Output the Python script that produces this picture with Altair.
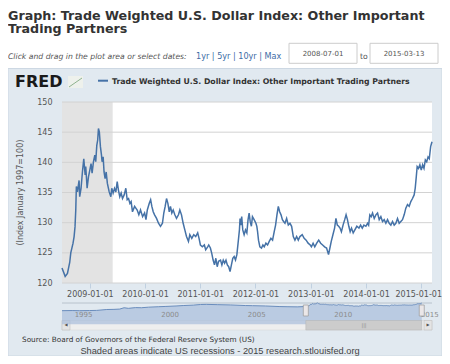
import altair as alt
import pandas as pd

# ---------------- data ----------------
dates = [
"2008-07-01","2008-07-22","2008-08-06","2008-08-21","2008-08-28","2008-09-12","2008-09-19","2008-09-25",
"2008-09-30","2008-10-04","2008-10-11","2008-10-22","2008-10-26","2008-11-04","2008-11-13","2008-11-22",
"2008-12-01","2008-12-05","2008-12-14","2008-12-23","2009-01-01","2009-01-09","2009-01-16","2009-01-25",
"2009-02-03","2009-02-09","2009-02-16","2009-02-22","2009-02-27","2009-03-05","2009-03-12","2009-03-19",
"2009-03-23","2009-03-30","2009-04-05","2009-04-12","2009-04-19","2009-04-27","2009-05-09","2009-05-20",
"2009-05-26","2009-06-04","2009-06-13","2009-06-22","2009-07-01","2009-07-09","2009-07-18","2009-07-27",
"2009-08-05","2009-08-16","2009-08-27","2009-09-05","2009-09-14","2009-09-23","2009-10-01","2009-10-10",
"2009-10-24","2009-11-10","2009-11-21","2009-12-02","2009-12-16","2009-12-29","2010-01-07","2010-01-16",
"2010-01-29","2010-02-07","2010-02-15","2010-02-24","2010-03-05","2010-03-18","2010-03-31","2010-04-13",
"2010-04-26","2010-05-05","2010-05-14","2010-05-23","2010-06-01","2010-06-10","2010-06-18","2010-06-27",
"2010-07-06","2010-07-17","2010-07-28","2010-08-10","2010-08-19","2010-08-30","2010-09-10","2010-09-21",
"2010-10-02","2010-10-15","2010-10-24","2010-11-06","2010-11-19","2010-12-02","2010-12-15","2010-12-24",
"2011-01-02","2011-01-15","2011-01-28","2011-02-06","2011-02-19","2011-02-26","2011-03-09","2011-03-18",
"2011-03-27","2011-04-05","2011-04-14","2011-04-23","2011-05-02","2011-05-15","2011-05-24","2011-06-02",
"2011-06-11","2011-06-20","2011-06-29","2011-07-08","2011-07-17","2011-07-26","2011-08-04","2011-08-13",
"2011-08-22","2011-08-31","2011-09-08","2011-09-17","2011-09-21","2011-09-26","2011-10-02","2011-10-09",
"2011-10-18","2011-10-27","2011-11-05","2011-11-13","2011-11-20","2011-11-27","2011-12-05","2011-12-12",
"2011-12-23","2012-01-04","2012-01-10","2012-01-15","2012-01-21","2012-01-30","2012-02-10","2012-02-19",
"2012-02-28","2012-03-10","2012-03-21","2012-04-01","2012-04-12","2012-04-23","2012-05-04","2012-05-13",
"2012-05-22","2012-05-31","2012-06-09","2012-06-18","2012-06-27","2012-07-05","2012-07-14","2012-07-25",
"2012-08-05","2012-08-16","2012-08-27","2012-09-07","2012-09-18","2012-09-29","2012-10-10","2012-10-21",
"2012-11-05","2012-11-18","2012-12-01","2012-12-14","2012-12-28","2013-01-05","2013-01-16","2013-01-27",
"2013-02-09","2013-02-22","2013-03-07","2013-03-20","2013-04-02","2013-04-15","2013-04-28","2013-05-07",
"2013-05-16","2013-05-27","2013-06-07","2013-06-16","2013-06-25","2013-07-04","2013-07-13","2013-07-22",
"2013-08-02","2013-08-13","2013-08-22","2013-08-31","2013-09-09","2013-09-18","2013-09-27","2013-10-08",
"2013-10-19","2013-11-01","2013-11-15","2013-11-26","2013-12-07","2013-12-18","2013-12-31","2014-01-11",
"2014-01-18","2014-01-26","2014-02-04","2014-02-13","2014-02-24","2014-03-07","2014-03-18","2014-03-29",
"2014-04-09","2014-04-20","2014-05-01","2014-05-12","2014-05-23","2014-06-03","2014-06-14","2014-06-25",
"2014-07-06","2014-07-17","2014-07-28","2014-08-08","2014-08-19","2014-08-30","2014-09-10","2014-09-21",
"2014-10-02","2014-10-13","2014-10-24","2014-11-04","2014-11-15","2014-11-22","2014-11-29","2014-12-05",
"2014-12-14","2014-12-23","2015-01-01","2015-01-10","2015-01-19","2015-01-28","2015-02-06","2015-02-15",
"2015-02-23","2015-03-04","2015-03-13",
]
values = [
122.5,121.1,121.6,123.4,125.0,126.6,127.7,129.3,
132.1,136.0,135.1,137.0,134.3,135.7,138.4,140.6,
137.9,139.3,135.7,137.6,138.7,139.8,138.2,140.1,
141.2,140.1,142.8,143.7,145.6,145.0,142.6,141.2,
140.1,140.9,138.4,137.3,138.4,136.5,135.1,134.3,
135.7,134.9,135.7,135.1,136.8,135.4,134.3,134.9,
134.0,134.6,135.7,133.8,134.0,133.2,133.5,131.8,
132.7,132.1,131.3,132.1,131.0,131.6,130.5,132.1,
133.2,133.8,132.7,131.8,131.3,130.7,129.9,129.4,
129.9,131.6,132.7,134.0,133.2,131.8,132.7,131.6,
132.1,131.3,130.7,131.3,132.1,131.3,129.9,128.8,
127.7,126.9,128.0,127.4,128.0,127.7,128.3,127.4,
126.3,126.0,126.3,125.5,126.0,126.3,125.8,124.9,
123.8,123.0,124.1,122.7,123.6,123.8,123.0,123.8,
123.3,123.8,123.0,122.7,121.9,123.0,124.1,124.4,
123.8,124.7,126.6,128.8,130.7,129.6,131.0,128.8,
128.0,128.8,128.3,130.5,131.6,130.2,129.4,131.0,
130.5,129.9,129.4,128.5,127.1,126.0,125.8,126.3,
126.0,126.6,126.3,126.9,127.4,127.1,128.5,129.6,
131.3,132.7,131.8,131.3,130.5,130.2,129.9,130.7,
129.6,129.9,129.4,127.7,127.1,127.7,127.1,127.7,
128.0,127.4,127.1,126.6,126.3,126.0,126.6,126.0,
126.6,127.1,126.6,126.3,126.0,125.8,124.7,125.8,
126.9,128.0,129.1,130.7,129.6,129.4,129.1,128.5,
129.6,130.5,131.3,130.5,129.4,128.5,129.1,128.3,
128.8,129.4,129.1,129.6,129.1,129.6,129.4,129.9,
129.6,131.3,131.0,131.6,130.7,131.3,131.6,130.5,
131.0,130.2,130.5,129.9,130.5,129.9,129.6,130.2,
129.6,129.9,130.7,129.9,130.2,130.5,131.3,132.4,
133.0,132.7,133.5,134.0,134.6,135.7,137.6,139.3,
139.0,139.6,138.7,139.6,139.0,140.4,140.1,140.9,
140.6,142.6,143.4,
]

# navigator history before the selected range
nav_pre_dates = [
"1994-06-01","1995-01-01","1995-06-01","1996-01-01","1996-06-01","1997-01-01","1997-06-01","1997-10-01",
"1998-01-01","1998-04-01","1998-09-01","1999-01-01","1999-06-01","2000-01-01","2000-06-01","2001-01-01",
"2001-06-01","2002-01-01","2002-06-01","2002-10-01","2003-06-01","2004-03-01","2005-01-01","2005-06-01",
"2006-03-01","2007-01-01","2007-06-01","2008-01-01","2008-06-01",
]
nav_pre_values = [
92, 93, 92, 93, 94, 100, 101, 103,
112, 108, 113, 112, 116, 119, 121, 124,
127, 130, 134, 135, 133, 131, 127, 126,
124, 120, 119, 118, 120,
]

recession_start = ["2007-12-01"]
recession_end = ["2009-06-01"]
y_ticks = [120, 125, 130, 135, 140, 145, 150]
x_tick_dates = ["2009-01-01", "2010-01-01", "2011-01-01", "2012-01-01",
                "2013-01-01", "2014-01-01", "2015-01-01"]
nav_label_dates = ["1995-01-01", "2000-01-01", "2005-01-01", "2010-01-01", "2015-01-01"]
nav_labels = ["1995", "2000", "2005", "2010", "2015"]
range_start = "2008-07-01"
range_end = "2015-03-13"

title_text = "Graph: Trade Weighted U.S. Dollar Index: Other Important"
title_text2 = "Trading Partners"
series_name = "Trade Weighted U.S. Dollar Index: Other Important Trading Partners"
y_title = "(Index January 1997=100)"
source_text = "Source: Board of Governors of the Federal Reserve System (US)"
note_text = "Shaded areas indicate US recessions - 2015 research.stlouisfed.org"

# ---------------- helpers ----------------
W, H = 370, 181
FONT = "DejaVu Sans"
one = pd.DataFrame({"k": [0]})


def dt(s):
    y, m, d = map(int, s.split("-"))
    return alt.DateTime(year=y, month=m, date=d, utc=True)


def rect(x, x2, y, y2, fill, stroke=None, sw=1):
    kw = dict(fill=fill)
    if stroke:
        kw.update(stroke=stroke, strokeWidth=sw)
    return alt.Chart(one).mark_rect(**kw).encode(
        x=alt.value(x), x2=alt.value(x2), y=alt.value(y), y2=alt.value(y2))


def rule(x, x2, y, y2, color, sw=1):
    return alt.Chart(one).mark_rule(color=color, strokeWidth=sw).encode(
        x=alt.value(x), x2=alt.value(x2), y=alt.value(y), y2=alt.value(y2))


def txt(t, x, y, size, color="#333", weight="normal", font=FONT, align="left",
        style="normal", angle=0, baseline="alphabetic"):
    return alt.Chart(one).mark_text(
        text=t, fontSize=size, color=color, fontWeight=weight, font=font,
        align=align, fontStyle=style, angle=angle, baseline=baseline
    ).encode(x=alt.value(x), y=alt.value(y))


# ---------------- main plot ----------------
xscale = alt.Scale(domain=[dt(range_start), dt(range_end)])
yscale = alt.Scale(domain=[120, 150], nice=False, zero=False)
xaxis = alt.Axis(values=[dt(s) for s in x_tick_dates],
                 labelExpr="utcFormat(datum.value, '%Y-%m-%d')",
                 title=None, grid=False, domain=False, ticks=True, tickSize=5,
                 tickColor="#C0D0E0", labelFont=FONT, labelFontSize=8,
                 labelColor="#555555", labelPadding=2, labelFlush=False,
                 labelOverlap=False, zindex=2,
                 labelOffset={"condition": {"test": "datum.value > 1401580800000", "value": -3},
                              "value": 0})
yaxis = alt.Axis(values=y_ticks, title=None, grid=False, domain=False, ticks=False,
                 labelPadding=10, labelFont=FONT, labelFontSize=8, labelColor="#555555",
                 zindex=2)

main_df = pd.DataFrame({"date": dates, "value": values})
rec_df = pd.DataFrame({"start": recession_start, "end": recession_end})
grid_df = pd.DataFrame({"v": y_ticks})

plot_bg = rect(0, W, 0, H, "white")
rec = alt.Chart(rec_df).mark_rect(color="#e3e3e3", clip=True).encode(
    x=alt.X("start:T", scale=xscale, axis=xaxis), x2="end:T",
    y=alt.value(0), y2=alt.value(H))
grid = alt.Chart(grid_df).mark_rule(color="#d2d2d2", strokeWidth=1).encode(
    y=alt.Y("v:Q", scale=yscale, axis=yaxis))
line = alt.Chart(main_df).mark_line(color="#4572a7", strokeWidth=1.5).encode(
    x=alt.X("date:T", scale=xscale, axis=xaxis),
    y=alt.Y("value:Q", scale=yscale, axis=yaxis))
main_group = alt.layer(plot_bg, rec, grid, line)

# ---------------- navigator ----------------
nxscale = alt.Scale(domain=[dt("1994-06-01"), dt("2015-10-15")])
nyscale = alt.Scale(domain=[280.3, 1511.3], nice=False, zero=False)
nav_df = pd.DataFrame({"date": nav_pre_dates + dates, "value": nav_pre_values + values})
nav_area = alt.Chart(nav_df).mark_area(
    color="#a9bedb", line={"color": "#6a8dbd", "strokeWidth": 1}).encode(
    x=alt.X("date:T", scale=nxscale, axis=None),
    y=alt.Y("value:Q", scale=nyscale, axis=None),
    y2=alt.value(217.3))
nav_lab = alt.Chart(pd.DataFrame({"d": nav_label_dates, "t": nav_labels})).mark_text(
    align="left", dx=2.5, fontSize=7, font=FONT, color="#8c8c8c", baseline="alphabetic").encode(
    x=alt.X("d:T", scale=nxscale, axis=None), y=alt.value(214.7), text="t:N")
sel_df = pd.DataFrame({"s": [range_start], "e": [range_end]})
thumb = alt.Chart(sel_df).mark_rect(fill="#cccccc", stroke="#b5b5b5", strokeWidth=0.5).encode(
    x=alt.X("s:T", scale=nxscale, axis=None), x2="e:T",
    y=alt.value(218.5), y2=alt.value(228))
handles = alt.Chart(pd.DataFrame({"h": [range_start, range_end]})).mark_tick(
    orient="vertical", thickness=5, size=11, color="#ebe7e8", stroke="#999999",
    strokeWidth=0.7, opacity=1).encode(
    x=alt.X("h:T", scale=nxscale, axis=None), y=alt.value(208.5))
nav_group = alt.layer(nav_area, nav_lab, thumb, handles)

# ---------------- decorations ----------------
panel = rect(-54, 380, -33.5, 254, "#e1e9f0", "#cdd8e3")

t1 = txt(title_text, -54, -82.2, 12.7, "#333333", "bold")
t2 = txt(title_text2, -54, -68.6, 12.7, "#333333", "bold")
click = txt("Click and drag in the plot area or select dates:", -54, -43, 7.7, "#555555", style="italic")
links = txt("1yr | 5yr | 10yr | Max", 134, -43, 8.1, "#3d6ca5")
box1 = rect(227, 295, -58.7, -38.7, "white", "#cccccc")
box2 = rect(308, 376, -58.7, -38.7, "white", "#cccccc")
box1t = txt(range_start, 261, -46.3, 7, "#555555", align="center")
box2t = txt(range_end, 342, -46.3, 7, "#555555", align="center")
to_t = txt("to", 298, -43, 7.7, "#555555")

fred = txt("FRED", -47, -14.7, 16, "#1a1a1a", "bold")
icon = rect(6, 21, -26, -14, "#eef1ec")
icon_l = rule(7, 20, -15, -24, "#8fb38f", 1)
leg_line = rule(36, 46, -21.3, -21.3, "#4572a7", 2)
leg_text = txt(series_name, 50, -18, 7.75, "#333333", "bold")

ytitle = txt(y_title, -41.5, 90.6, 8, "#555555", align="center", angle=270, baseline="middle")

nav_outline = rule(0, W, 201, 201, "#b8c2cc", 1)
track = rect(0, W, 218.5, 228, "#eeeeee", "#d5d5d5", 0.5)
btn_l = rect(0, 8, 218.5, 228, "#e4e4e4", "#bbbbbb", 0.5)
btn_r = rect(362, W, 218.5, 228, "#e4e4e4", "#bbbbbb", 0.5)
arr_l = txt("◀", 4, 223.3, 4, "#555555", align="center", baseline="middle")
arr_r = txt("▶", 366, 223.3, 4, "#555555", align="center", baseline="middle")
grip = txt("|||", 302, 223.3, 5, "#888888", align="center", baseline="middle")

src = txt(source_text, -40, 240.3, 7.3, "#333333")
note = txt(note_text, 158, 252, 9.25, "#444444", font="Liberation Sans", align="center")

chart = alt.layer(
    panel,
    main_group, nav_outline, track, btn_l, btn_r, nav_group, arr_l, arr_r, grip,
    t1, t2, click, links, box1, box2, box1t, box2t, to_t,
    fred, icon, icon_l, leg_line, leg_text, ytitle, src, note,
).resolve_scale(x="independent", y="independent").properties(
    width=W, height=H,
    autosize=alt.AutoSizeParams(type="none"),
    padding={"left": 54, "top": 94, "right": 10, "bottom": 73},
    background="white",
).configure_view(stroke=None)

chart.save("out.html", embed_options={"renderer": "svg", "actions": False})
